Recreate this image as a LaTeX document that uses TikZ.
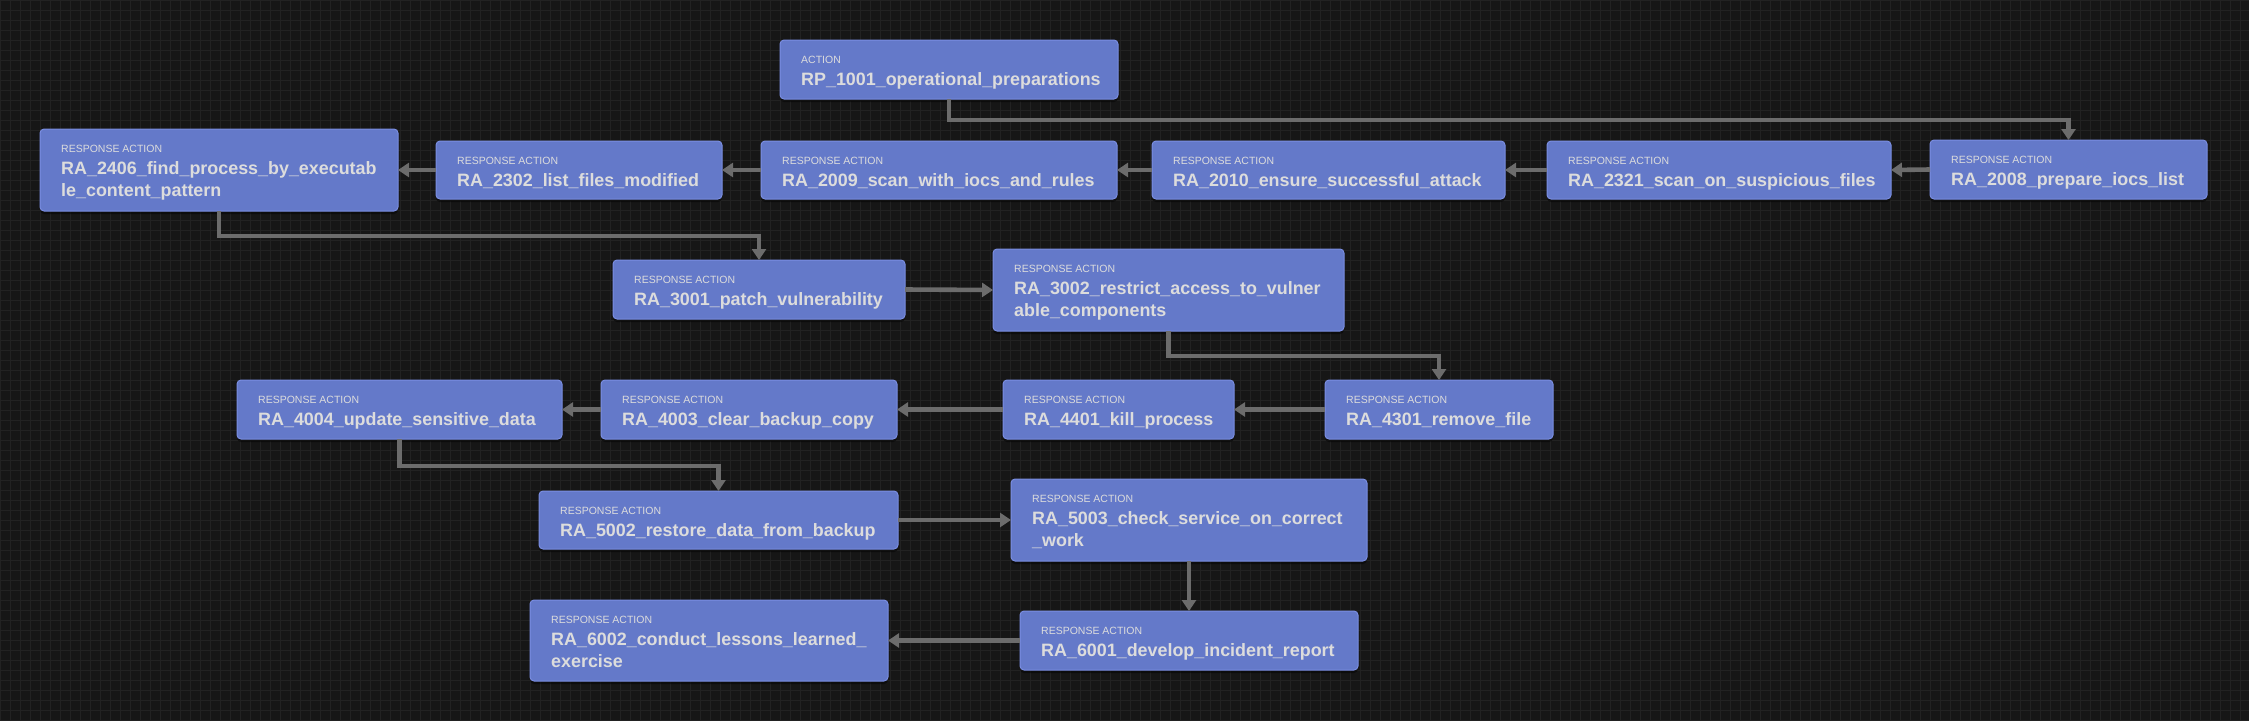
\documentclass[tikz,border=0pt]{standalone}
\usepackage{fontspec}
\setmainfont{Liberation Sans}
\usetikzlibrary{arrows.meta,shadows}
\definecolor{bg}{HTML}{161616}
\definecolor{gridc}{HTML}{222222}
\definecolor{boxfill}{HTML}{6479C9}
\definecolor{boxline}{HTML}{7A8EE2}
\definecolor{txt}{HTML}{DCDCDC}
\definecolor{edge}{HTML}{6C6C6C}
\tikzset{
  box/.style={draw=boxline, line width=1pt, fill=boxfill, rounded corners=4pt, inner sep=0pt, outer sep=0pt,
    drop shadow={shadow xshift=0pt, shadow yshift=-3pt, opacity=0.45, fill=black}},
  lbl/.style={anchor=base west, inner sep=0pt, text=txt, font=\fontsize{10.5}{13}\selectfont},
  ttl/.style={anchor=base west, inner sep=0pt, text=txt, font=\bfseries\fontsize{17.9}{22}\selectfont},
  link/.style={draw=edge, line width=4.6pt, -{Triangle[length=11pt,width=14pt]}}
}
\newcommand\mkbox[7]{%
  \node[box, minimum width={(#4-#2)*1pt}, minimum height={(#5-#3)*1pt}] (#1) at ({(#2+#4)/2},{(#3+#5)/2}) {};
  \node[lbl] (#1l) at ({#2+21},{#3+23}) {#6};
  \node[ttl] (#1t) at ({#2+21},{#3+45}) {#7};
}
\newcommand\mkline[4]{%
  \node[ttl] (#1s) at ({#2+21},{#3+67}) {#4};
}
\begin{document}
\begin{tikzpicture}[x=1pt,y=-1pt]
\useasboundingbox (0,0) rectangle (2249,721);
\fill[bg] (0,0) rectangle (2249,721);
\draw[gridc, line width=1pt, step=10pt] (0,0) grid (2249,721);

\mkbox{rp1001}{780}{40}{1118}{99}{ACTION}{RP\_1001\_operational\_preparations}
\mkbox{ra2406}{40}{129}{398}{211}{RESPONSE ACTION}{RA\_2406\_find\_process\_by\_executab}
\mkline{ra2406}{40}{129}{le\_content\_pattern}
\mkbox{ra2302}{436}{141}{722}{199}{RESPONSE ACTION}{RA\_2302\_list\_files\_modified}
\mkbox{ra2009}{761}{141}{1117}{199}{RESPONSE ACTION}{RA\_2009\_scan\_with\_iocs\_and\_rules}
\mkbox{ra2010}{1152}{141}{1505}{199}{RESPONSE ACTION}{RA\_2010\_ensure\_successful\_attack}
\mkbox{ra2321}{1547}{141}{1891}{199}{RESPONSE ACTION}{RA\_2321\_scan\_on\_suspicious\_files}
\mkbox{ra2008}{1930}{140}{2207}{199}{RESPONSE ACTION}{RA\_2008\_prepare\_iocs\_list}
\mkbox{ra3001}{613}{260}{905}{319}{RESPONSE ACTION}{RA\_3001\_patch\_vulnerability}
\mkbox{ra3002}{993}{249}{1344}{331}{RESPONSE ACTION}{RA\_3002\_restrict\_access\_to\_vulner}
\mkline{ra3002}{993}{249}{able\_components}
\mkbox{ra4004}{237}{380}{562}{439}{RESPONSE ACTION}{RA\_4004\_update\_sensitive\_data}
\mkbox{ra4003}{601}{380}{897}{439}{RESPONSE ACTION}{RA\_4003\_clear\_backup\_copy}
\mkbox{ra4401}{1003}{380}{1234}{439}{RESPONSE ACTION}{RA\_4401\_kill\_process}
\mkbox{ra4301}{1325}{380}{1553}{439}{RESPONSE ACTION}{RA\_4301\_remove\_file}
\mkbox{ra5002}{539}{491}{898}{549}{RESPONSE ACTION}{RA\_5002\_restore\_data\_from\_backup}
\mkbox{ra5003}{1011}{479}{1367}{561}{RESPONSE ACTION}{RA\_5003\_check\_service\_on\_correct}
\mkline{ra5003}{1011}{479}{\_work}
\mkbox{ra6002}{530}{600}{888}{681}{RESPONSE ACTION}{RA\_6002\_conduct\_lessons\_learned\_}
\mkline{ra6002}{530}{600}{exercise}
\mkbox{ra6001}{1020}{611}{1358}{670}{RESPONSE ACTION}{RA\_6001\_develop\_incident\_report}

\draw[link] (rp1001.south) -- ++(0,21) -| (ra2008.north);
\draw[link] (ra2008.west) -- (ra2321.east);
\draw[link] (ra2321.west) -- (ra2010.east);
\draw[link] (ra2010.west) -- (ra2009.east);
\draw[link] (ra2009.west) -- (ra2302.east);
\draw[link] (ra2302.west) -- (ra2406.east);
\draw[link] (ra2406.south) -- ++(0,25) -| (ra3001.north);
\draw[link] (ra3001.east) -- (ra3002.west);
\draw[link] (ra3002.south) -- ++(0,25) -| (ra4301.north);
\draw[link] (ra4301.west) -- (ra4401.east);
\draw[link] (ra4401.west) -- (ra4003.east);
\draw[link] (ra4003.west) -- (ra4004.east);
\draw[link] (ra4004.south) -- ++(0,27) -| (ra5002.north);
\draw[link] (ra5002.east) -- (ra5003.west);
\draw[link] (ra5003.south) -- (ra6001.north);
\draw[link] (ra6001.west) -- (ra6002.east);
\end{tikzpicture}
\end{document}
